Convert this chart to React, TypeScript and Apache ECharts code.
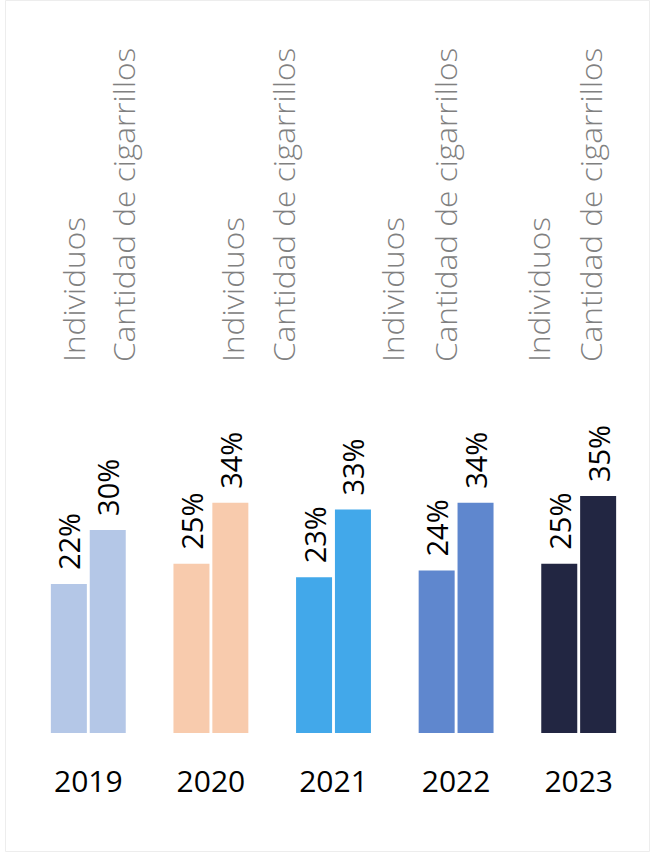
import React, { useEffect, useRef } from "react";
import * as echarts from "echarts";

const years = ["2019", "2020", "2021", "2022", "2023"];
const seriesNames = ["Individuos", "Cantidad de cigarrillos"];
const individuos = [22, 25, 23, 24, 25];
const cigarrillos = [30, 34, 33, 34, 35];
const yearColors = ["#B4C7E7", "#F8CBAD", "#42A8EA", "#5F87CE", "#222642"];

// layout of the repeated gray series-name headings (x of each pair)
const headingPairsX = [
  [74, 124],
  [233, 284],
  [393, 446],
  [539, 591],
];

const FONT = "'Open Sans', 'Noto Sans', sans-serif";

export default function App() {
  const ref = useRef<HTMLDivElement>(null);

  useEffect(() => {
    if (!ref.current) return;
    const chart = echarts.init(ref.current, null, { renderer: "svg" });

    const barLabel = {
      show: true,
      position: "top",
      rotate: 90,
      align: "left",
      verticalAlign: "middle",
      distance: 14,
      formatter: "{c}%",
      fontSize: 29,
      fontFamily: FONT,
      color: "#000",
    };

    const headings: any[] = [];
    headingPairsX.forEach((pair) => {
      pair.forEach((x, i) => {
        headings.push({
          type: "text",
          x,
          y: 362,
          rotation: Math.PI / 2,
          scaleX: 1.09,
          style: {
            text: seriesNames[i],
            fontSize: 29,
            fontFamily: FONT,
            fontWeight: 300,
            fill: "#808080",
            align: "left",
            verticalAlign: "middle",
          },
        });
      });
    });

    chart.setOption({
      animation: false,
      grid: { left: 27, right: 14, top: 394.5, bottom: 124 },
      xAxis: {
        type: "category",
        data: years,
        axisLine: { show: false },
        axisTick: { show: false },
        axisLabel: {
          fontSize: 30,
          fontFamily: FONT,
          color: "#000",
          margin: 47,
          verticalAlign: "middle",
        },
      },
      yAxis: {
        type: "value",
        min: 0,
        max: 50,
        show: false,
        splitLine: { show: false },
      },
      series: [
        {
          name: seriesNames[0],
          type: "bar",
          data: individuos,
          barWidth: 36,
          barGap: "8%",
          itemStyle: { color: (p: any) => yearColors[p.dataIndex] },
          label: barLabel,
        },
        {
          name: seriesNames[1],
          type: "bar",
          data: cigarrillos,
          barWidth: 36,
          barGap: "8%",
          itemStyle: { color: (p: any) => yearColors[p.dataIndex] },
          label: barLabel,
        },
      ],
      graphic: [
        {
          type: "rect",
          shape: { x: 5.5, y: 0.5, width: 644, height: 851 },
          style: { fill: "none", stroke: "#EDEDED", lineWidth: 1 },
          silent: true,
        },
        ...headings,
      ],
    });

    return () => chart.dispose();
  }, []);

  return (
    <div
      ref={ref}
      style={{ position: "fixed", left: 0, top: 0, width: 654, height: 857, background: "#fff" }}
    />
  );
}
